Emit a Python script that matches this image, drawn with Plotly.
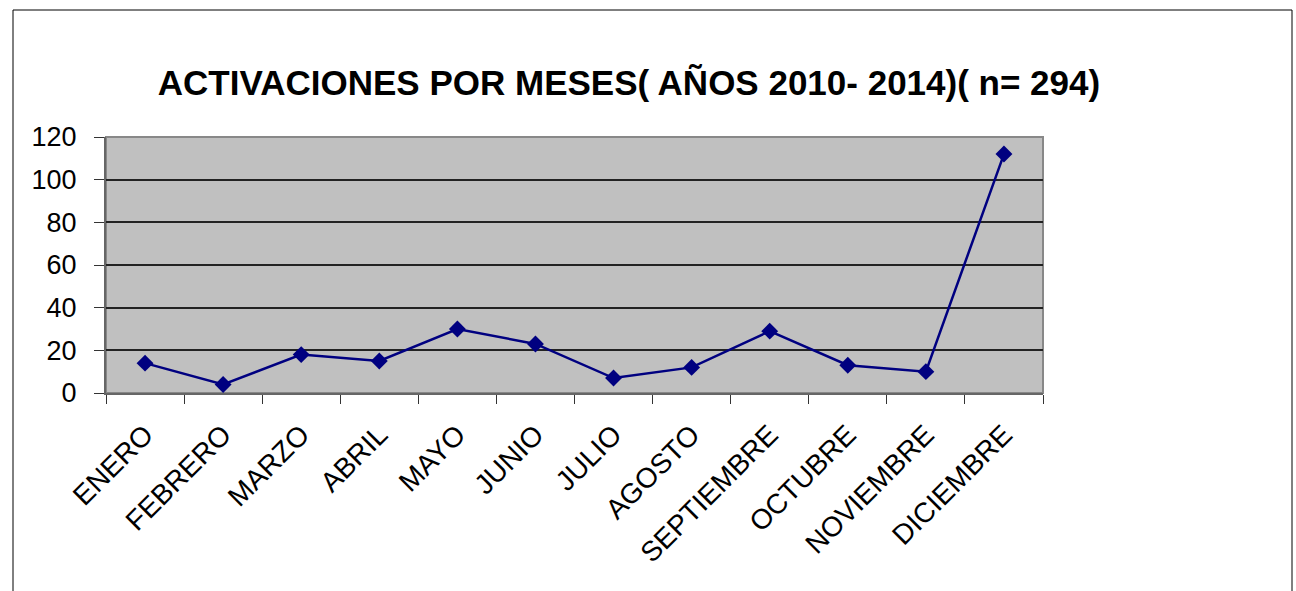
import plotly.graph_objects as go

# Monthly activations, 2010-2014
meses = ["ENERO", "FEBRERO", "MARZO", "ABRIL", "MAYO", "JUNIO", "JULIO",
         "AGOSTO", "SEPTIEMBRE", "OCTUBRE", "NOVIEMBRE", "DICIEMBRE"]
activaciones = [14, 4, 18, 15, 30, 23, 7, 12, 29, 13, 10, 112]
y_ticks = [0, 20, 40, 60, 80, 100, 120]

W, H = 1296, 591
L, R, T, B = 106, 1043, 137, 393

fig = go.Figure()
fig.add_trace(go.Scatter(
    x=meses, y=activaciones, mode="lines+markers",
    line=dict(color="#000080", width=2.5),
    marker=dict(symbol="diamond", size=13, color="#000080"),
    showlegend=False,
))

pw, ph = R - L, B - T
# outer chart frame
fig.add_shape(type="rect", xref="paper", yref="paper",
              x0=(13 - L) / pw, x1=(1292 - L) / pw,
              y0=(B - 620) / ph, y1=(B - 10) / ph,
              line=dict(color="#000000", width=1), fillcolor="rgba(0,0,0,0)",
              layer="below")

fig.update_layout(
    width=W, height=H,
    margin=dict(l=L, r=W - R, t=T, b=H - B),
    paper_bgcolor="white", plot_bgcolor="#c0c0c0",
    font=dict(family="Liberation Sans, Arial, sans-serif", color="#000000"),
    title=dict(text="<b>ACTIVACIONES POR MESES( AÑOS 2010- 2014)( n= 294)</b>",
               x=629 / W, xanchor="center", xref="container",
               y=1 - 83 / H, yanchor="middle", yref="container",
               font=dict(size=35, color="#000000")),
    xaxis=dict(type="category", range=[-0.5, len(meses) - 0.5],
               tickson="boundaries", ticks="outside",
               ticklen=9, tickcolor="#333333", tickangle=-45,
               ticklabelstandoff=12,
               tickfont=dict(size=28), showline=True, linecolor="#666666",
               linewidth=2, showgrid=False, mirror=False),
    yaxis=dict(range=[0, 120], tickvals=y_ticks, ticks="outside", ticklen=10,
               tickcolor="#333333", tickfont=dict(size=27),
               ticklabelstandoff=12,
               showline=True, linecolor="#666666", linewidth=2,
               showgrid=True, gridcolor="#222222", gridwidth=1.5,
               zeroline=False),
)
fig.add_shape(type="rect", xref="paper", yref="paper", x0=0, x1=1, y0=0, y1=1,
              line=dict(color="#888888", width=2), layer="below")

fig.write_html("out.html")
